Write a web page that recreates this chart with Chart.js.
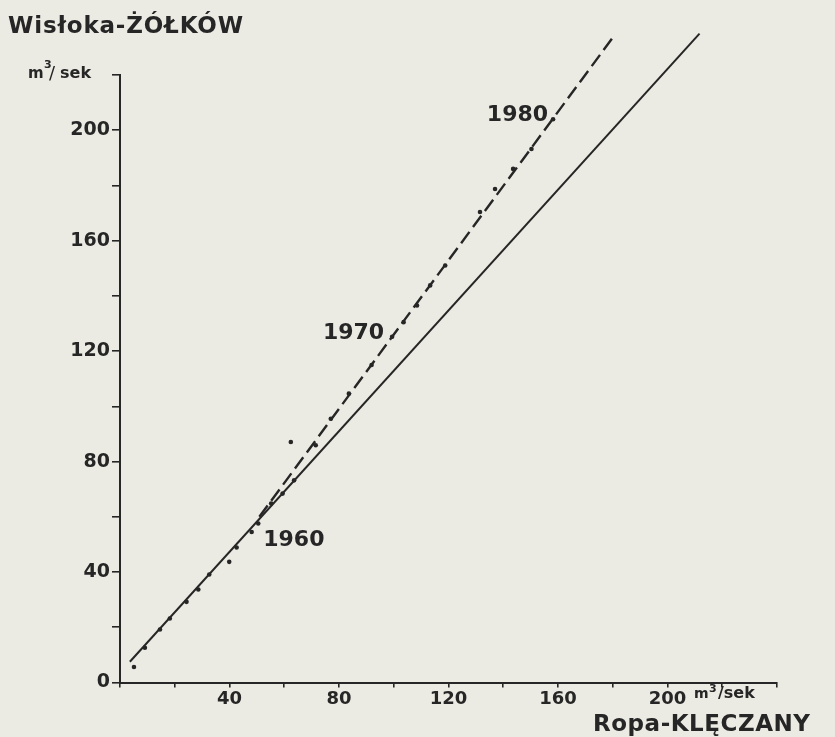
<!DOCTYPE html>
<html><head><meta charset="utf-8">
<script src="https://cdn.jsdelivr.net/npm/chart.js@4.4.1/dist/chart.umd.min.js"></script>
<style>html,body{margin:0;padding:0;background:#ecebe3;}#wrap{width:835px;height:737px;position:relative}</style>
</head><body><div id="wrap"><canvas id="c" width="835" height="737"></canvas></div>
<script>
// Ropa-Kłęczany (x) vs Wisłoka-Żółków (y), m3/sek
const pointX = [5.1, 9.1, 14.6, 18.2, 24.3, 28.6, 32.6, 39.9, 42.6, 48.1, 50.5, 55.2, 59.4, 63.6, 62.4, 71.5, 77.0, 83.6, 91.9, 99.4, 103.6, 108.5, 113.3, 118.8, 131.5, 137.0, 143.6, 150.3, 158.2];
const pointY = [5.6, 12.6, 19.2, 23.2, 29.2, 33.7, 39.1, 43.7, 48.9, 54.5, 57.6, 64.8, 68.4, 73.2, 87.1, 85.9, 95.5, 104.6, 115.0, 125.2, 130.5, 136.5, 143.8, 151.0, 170.4, 178.7, 186.0, 193.2, 204.0];
const solidX = [3.6, 211.7];
const solidY = [7.5, 235];
const dashedX = [50.9, 180.7];
const dashedY = [60, 234.5];
const xTickLabels = [40, 80, 120, 160, 200];
const yTickLabels = [0, 40, 80, 120, 160, 200];
const yearLabels = ['1960', '1970', '1980'];
const yearPointIndex = [10, 19, 28];

const INK = '#262626';
const BG = '#ecebe3';
const FONT = '"DejaVu Sans", "Liberation Sans", sans-serif';

function pts(xs, ys) { return xs.map((x, i) => ({x: x, y: ys[i]})); }

const decor = {
  id: 'decor',
  beforeDraw(chart) {
    const ctx = chart.ctx;
    ctx.save();
    ctx.fillStyle = BG;
    ctx.fillRect(0, 0, chart.width, chart.height);
    ctx.restore();
  },
  afterDraw(chart) {
    const ctx = chart.ctx;
    const xs = chart.scales.x, ys = chart.scales.y;
    ctx.save();
    ctx.fillStyle = INK;
    ctx.textBaseline = 'alphabetic';
    ctx.textAlign = 'left';
    function fitText(t, x, y, font, width) {
      ctx.font = font;
      ctx.letterSpacing = '0px';
      const w = ctx.measureText(t).width;
      const sp = (width - w) / Math.max(1, t.length - 1);
      ctx.letterSpacing = sp.toFixed(2) + 'px';
      ctx.fillText(t, x, y);
      ctx.letterSpacing = '0px';
    }
    // title
    fitText('Wisłoka-ŻÓŁKÓW', 8, 33, 'bold 23px ' + FONT, 235);
    // y unit
    ctx.font = 'bold 15px ' + FONT; ctx.fillText('m', 28, 78);
    ctx.font = 'bold 11px ' + FONT; ctx.fillText('3', 44, 68);
    ctx.font = '18px ' + FONT; ctx.fillText('/', 49, 79);
    ctx.font = 'bold 16px ' + FONT; ctx.fillText('sek', 60, 78);
    // x unit
    ctx.font = 'bold 14px ' + FONT; ctx.fillText('m', 694, 698);
    ctx.font = 'bold 11px ' + FONT; ctx.fillText('3', 709, 692);
    ctx.font = 'bold 16px ' + FONT; ctx.fillText('/sek', 718, 698);
    // x axis title
    fitText('Ropa-KLĘCZANY', 593, 731, 'bold 23px ' + FONT, 217);
    // year labels
    ctx.font = 'bold 22px ' + FONT;
    ctx.textBaseline = 'middle';
    const offs = [[5, 17, 'left'], [-8, -3, 'right'], [-5, -4, 'right']];
    yearLabels.forEach((t, i) => {
      const k = yearPointIndex[i];
      const px = xs.getPixelForValue(pointX[k]);
      const py = ys.getPixelForValue(pointY[k]);
      ctx.textAlign = offs[i][2];
      ctx.fillText(t, px + offs[i][0], py + offs[i][1]);
    });
    ctx.restore();
  }
};

new Chart(document.getElementById('c'), {
  type: 'scatter',
  data: {
    datasets: [
      { data: pts(solidX, solidY), showLine: true, borderColor: INK, borderWidth: 2, pointRadius: 0, clip: false },
      { data: pts(dashedX, dashedY), showLine: true, borderColor: INK, borderWidth: 2.4, borderDash: [14, 6], pointRadius: 0, clip: false },
      { data: pts(pointX, pointY), showLine: false, pointRadius: 2.3, pointBackgroundColor: INK, pointBorderWidth: 0, clip: false }
    ]
  },
  options: {
    responsive: false,
    animation: false,
    events: [],
    layout: { padding: { top: 75, right: 58, bottom: 0, left: 0 } },
    plugins: { legend: { display: false }, tooltip: { enabled: false } },
    scales: {
      x: {
        type: 'linear', min: 0, max: 240,
        afterFit(s) { s.height = 54.5; },
        border: { display: true, color: INK, width: 2 },
        grid: { display: true, drawOnChartArea: false, drawTicks: true, tickLength: 5, color: INK, lineWidth: 1.6 },
        ticks: {
          stepSize: 20, padding: 1, color: INK, autoSkip: false, maxRotation: 0,
          font: { family: FONT, size: 18, weight: 'bold' },
          callback: v => xTickLabels.includes(v) ? String(v) : ''
        }
      },
      y: {
        type: 'linear', min: 0, max: 220,
        afterFit(s) { s.width = 120; },
        border: { display: true, color: INK, width: 2 },
        grid: { display: true, drawOnChartArea: false, drawTicks: true, tickLength: 8, color: INK, lineWidth: 1.6 },
        ticks: {
          stepSize: 20, padding: 2, color: INK, autoSkip: false,
          font: { family: FONT, size: 19, weight: 'bold' },
          callback: v => yTickLabels.includes(v) ? String(v) : ''
        }
      }
    }
  },
  plugins: [decor]
});
</script></body></html>
